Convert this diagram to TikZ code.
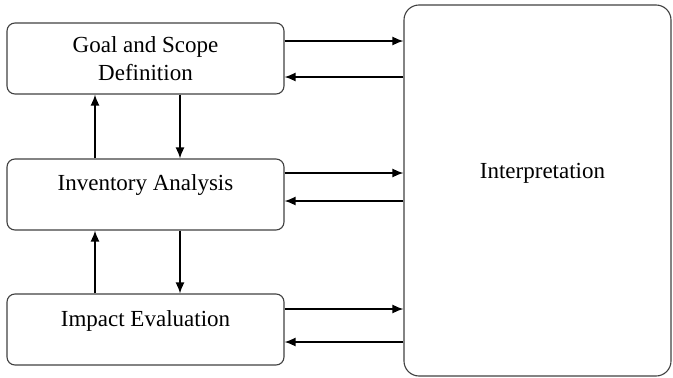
\documentclass[tikz,border=0pt]{standalone}
\usepackage{fontspec}
\setmainfont{Liberation Serif}
\usetikzlibrary{arrows.meta}

\begin{document}
\begin{tikzpicture}[x=1pt,y=-1pt]
  \tikzstyle{box}=[draw=black!75,line width=1.1pt,rounded corners=8pt,minimum width=277pt,minimum height=71pt,align=center,font=\fontsize{23}{28}\selectfont]
  \tikzstyle{flow}=[line width=1.5pt,-{Latex[length=11pt,width=9pt]}]
  \useasboundingbox (0,0) rectangle (673,378);
   \node[box] (goal) at (145.5,58.5) {Goal and Scope\\Definition};
   \node[box,text depth=24pt] (inv) at (145.5,194.5) {Inventory Analysis};
   \node[box,text depth=22pt] (imp) at (145.5,329.5) {Impact Evaluation};
   \node[box,rounded corners=15pt,minimum width=267pt,minimum height=371pt,text depth=40pt,xshift=0pt] (interp) at (537.5,190.5) {\hspace{10pt}Interpretation};
   % links to interpretation
   \foreach \n / \u / \d in {goal/17.5/18.5,inv/21.5/6.5,imp/20.5/12.5} {
     \draw[flow] ([yshift=\u pt]\n.east) -- ([yshift=\u pt]\n.east -| interp.west);
     \draw[flow] ([yshift=-\d pt]\n.east -| interp.west) -- ([yshift=-\d pt]\n.east);
   }
   % up and down between stages
   \foreach \a / \b in {goal/inv,inv/imp} {
     \draw[flow] ([xshift=-50.5pt]\b.north) -- ([xshift=-50.5pt]\a.south);
     \draw[flow] ([xshift=34.5pt]\a.south) -- ([xshift=34.5pt]\b.north);
   }
\end{tikzpicture}
\end{document}
